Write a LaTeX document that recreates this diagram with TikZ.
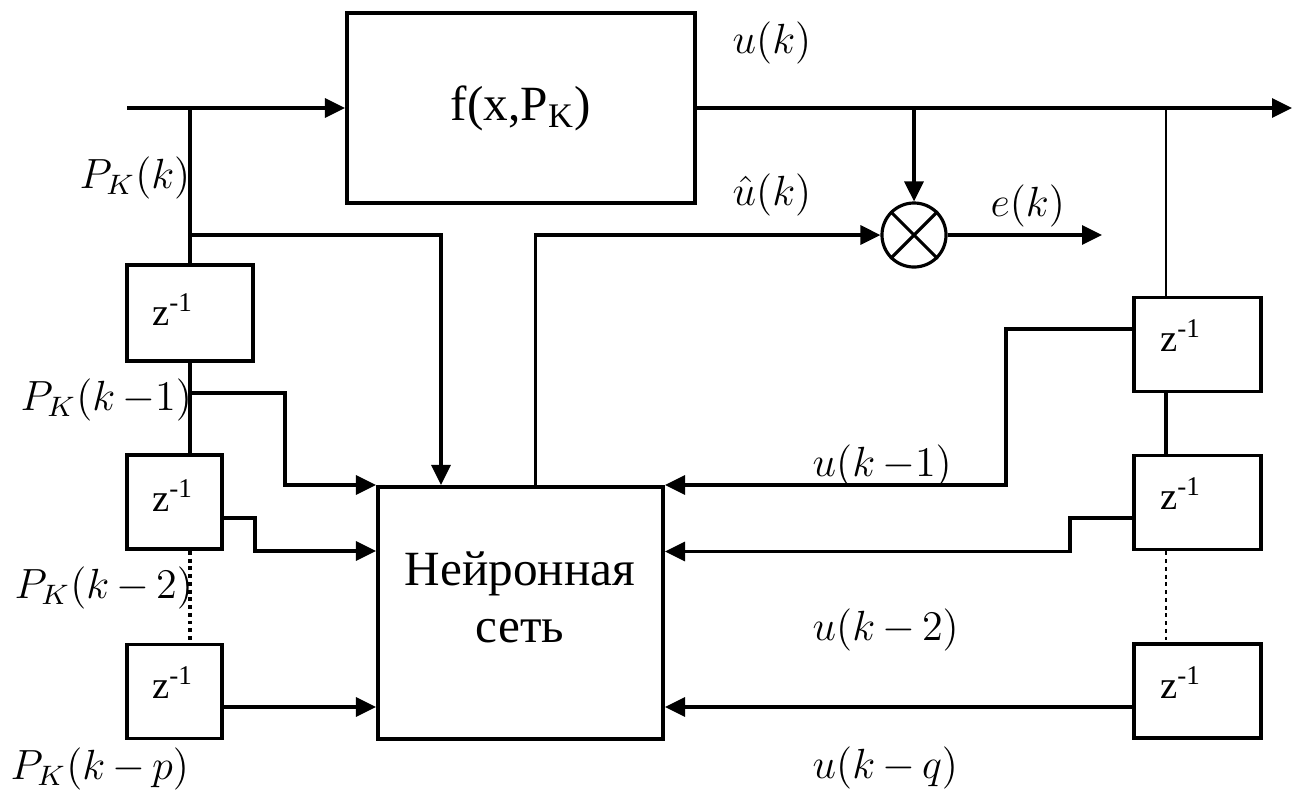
\documentclass[tikz,border=0pt]{standalone}
\usepackage{fontspec}
\setmainfont{Liberation Serif}
\usepackage{tikz}
\usetikzlibrary{positioning, calc, arrows.meta}
\definecolor{Ink}{HTML}{000000}
\newcommand\PK[1]{$P_K(k#1)$}
\tikzset{
    block/.style={rectangle, draw=Ink, line width=1.1pt, inner sep=0pt},
    zbox/.style={block, minimum width=0.95cm, minimum height=0.94cm},
    ztext/.style={font=\fontsize{11}{13}\selectfont, text=Ink},
    sig/.style={font=\fontsize{12}{14}\selectfont, text=Ink, inner sep=0pt},
    pksig/.style={font=\fontsize{12}{15}\selectfont, text=Ink, inner sep=0pt},
    wire/.style={line width=0.9pt, draw=Ink},
    thinwire/.style={line width=0.6pt, draw=Ink},
    arrow/.style={-{Triangle[length=2mm, width=1.9mm]}},
    gap/.style={line width=1.1pt, dash pattern=on 1.1pt off 1.1pt},
    mult/.style={circle, draw=Ink, line width=0.9pt, minimum size=0.64cm, inner sep=0pt},
}

\begin{document}
\begin{tikzpicture}[x=0.01cm, y=-0.01cm]
\useasboundingbox (0,0) rectangle (1294,790);

% Блоки
\node[block, minimum width=3.48cm, minimum height=1.90cm, font=\fontsize{14}{16}\selectfont] (fbox) at (521,108) {f(x,P\textsubscript{K})};
\node[block, minimum width=2.85cm, minimum height=2.52cm] (nn) at (520.5,613) {};
\node[font=\fontsize{14}{16.2}\selectfont, align=center] (nntext) at (520,597) {Нейронная\\сеть};
\node[mult] (mul) at (914,235) {};

% Линии задержки
\node[zbox, minimum width=1.26cm, minimum height=0.96cm] (pl1) at (190,313) {};
\node[zbox] (pl2) at (174.5,502) {};
\node[zbox] (pl3) at (174.5,691.5) {};
\node[zbox, minimum width=1.27cm] (pr1) at (1197.5,344.5) {};
\node[zbox, minimum width=1.27cm] (pr2) at (1197.5,502.5) {};
\node[zbox, minimum width=1.27cm] (pr3) at (1197.5,691) {};
\foreach \b/\dx/\dy in {pl1/-17/-3, pl2/-1.5/-6, pl3/-1.5/-9, pr1/-16.5/-9, pr2/-16.5/-9, pr3/-16.5/-8}
    \node[ztext] (z\b) at ($(\b)+(\dx,\dy)$) {z\textsuperscript{-1}};

% Точки
\coordinate (in) at (127,108);
\coordinate (out) at (1292,108);
\coordinate (err) at (1102,235);
\coordinate (jl) at (190,108);
\coordinate (jb) at (190,235);
\coordinate (j1) at (190,393);
\coordinate (jr) at (1166,108);

% Вход
\draw[wire, arrow] (in) -- (fbox.west);
\draw[wire] (jl) -- (pl1.north);
\draw[wire, arrow] (jb) -| ([xshift=0.65cm]nn.north west);
\draw[wire] (pl1.south) -- (pl1.south |- pl2.north);
\draw[gap] (pl1.south |- pl2.south) -- (pl1.south |- pl3.north);
\draw[wire, arrow] (j1) -- ++(95,0) |- (nn.north west);
\draw[wire, arrow] ([yshift=-0.16cm]pl2.east) -- ++(31,0) |- (nn.west |- pl2.south);
\draw[wire, arrow] ([yshift=-0.155cm]pl3.east) -- ([yshift=-0.155cm]pl3.east -| nn.west);

% Выход
\draw[wire, arrow] (fbox.east) -- (out);
\draw[wire, arrow] (mul.north |- fbox.east) -- (mul.north);
\draw[wire, arrow] ([xshift=1.59cm]nn.north west) |- (mul.west);
\draw[wire, arrow] (mul.east) -- (err);
\draw[wire] (mul.north west) -- (mul.south east) (mul.north east) -- (mul.south west);
\draw[thinwire] (jr) -- (jr |- pr1.north);
\draw[wire] (jr |- pr1.south) -- (jr |- pr2.north);
\draw[gap, line width=0.8pt] (jr |- pr2.south) -- (jr |- pr3.north);
\draw[wire, arrow] ([yshift=0.155cm]pr1.west) -- ++(-126,0) |- (nn.north east);
\draw[wire, arrow] ([yshift=-0.155cm]pr2.west) -- ++(-62,0) |- (nn.east |- pr2.south);
\draw[wire, arrow] ([yshift=-0.16cm]pr3.west) -- ([yshift=-0.16cm]pr3.west -| nn.east);

% Подписи
\node[pksig, anchor=east] (lpk) at (191,178) {\PK{}};
\node[pksig, anchor=west] (lpk1) at (20,400) {\PK{\,{-}1}};
\node[pksig, anchor=west] (lpk2) at (14,588) {\PK{\,{-}\,2}};
\node[pksig, anchor=west] (lpkp) at (10,769) {\PK{\,{-}\,p}};
\node[sig, anchor=west] (luk) at (732,43) {$u(k)$};
\node[sig, anchor=west] (luh) at (732,195) {$\hat{u}(k)$};
\node[sig, anchor=west] (lek) at (990,206) {$e(k)$};
\node[sig, anchor=west] (lu1) at (812,466) {$u(k\,{-}1)$};
\node[sig, anchor=west] (lu2) at (812,630) {$u(k\,{-}\,2)$};
\node[sig, anchor=west] (luq) at (812,768) {$u(k\,{-}\,q)$};
\end{tikzpicture}
\end{document}
